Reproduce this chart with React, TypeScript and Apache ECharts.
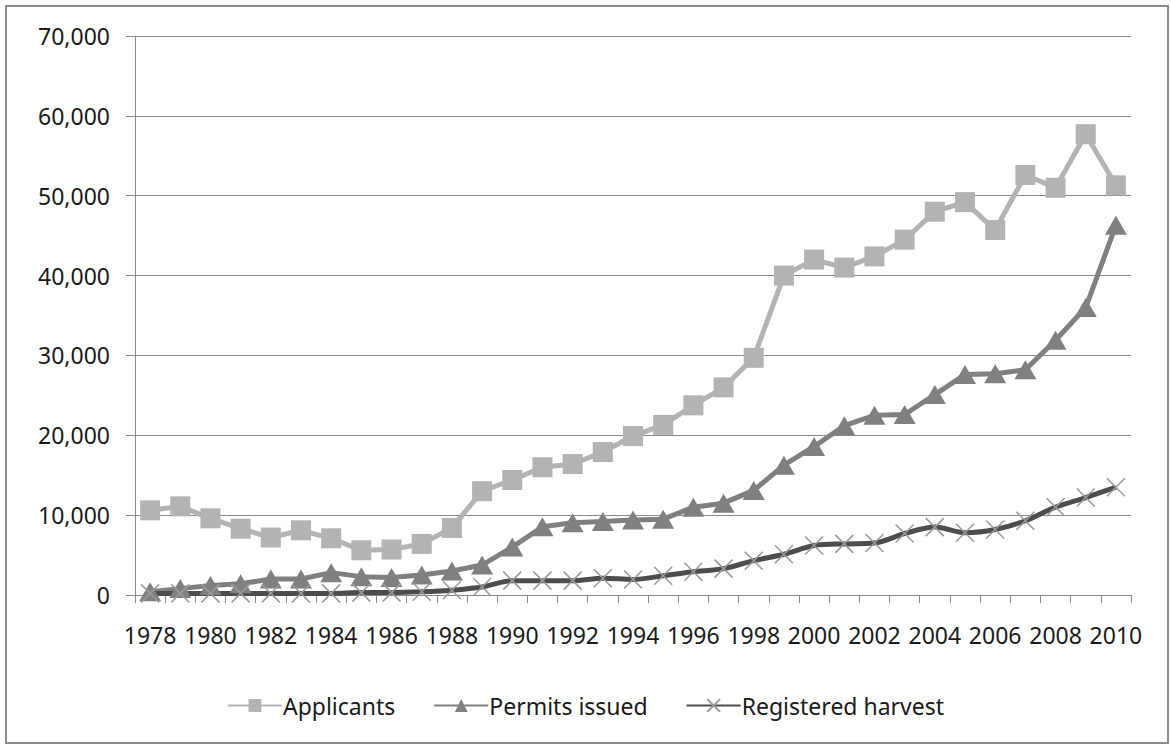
import React, { useEffect, useRef } from "react";
import * as echarts from "echarts";

const years = [
  "1978","1979","1980","1981","1982","1983","1984","1985","1986","1987","1988",
  "1989","1990","1991","1992","1993","1994","1995","1996","1997","1998","1999",
  "2000","2001","2002","2003","2004","2005","2006","2007","2008","2009","2010",
];

const applicants = [
  10600, 11100, 9600, 8300, 7200, 8100, 7100, 5600, 5700, 6400, 8400,
  13000, 14400, 16000, 16400, 17900, 19900, 21300, 23750, 26000, 29700, 40000,
  42000, 41000, 42400, 44500, 48000, 49200, 45700, 52600, 51000, 57700, 51300,
];

const permits = [
  400, 800, 1200, 1400, 2000, 2000, 2800, 2300, 2200, 2500, 3000,
  3750, 6000, 8550, 9050, 9200, 9400, 9500, 11000, 11500, 13100, 16250,
  18600, 21200, 22500, 22600, 25100, 27600, 27700, 28200, 31900, 36000, 46300,
];

const harvest = [
  200, 200, 200, 200, 200, 200, 200, 300, 300, 400, 600,
  1000, 1800, 1800, 1800, 2100, 1950, 2400, 2900, 3300, 4300, 5100,
  6200, 6400, 6500, 7700, 8500, 7800, 8200, 9300, 11000, 12200, 13500,
];

const yTicks = [0, 10000, 20000, 30000, 40000, 50000, 60000, 70000];

const FONT = "'Noto Sans', sans-serif";
const AXIS_GRAY = "#8a8a8a";

export default function App() {
  const ref = useRef<HTMLDivElement>(null);

  useEffect(() => {
    if (!ref.current) return;
    const chart = echarts.init(ref.current, undefined, { renderer: "svg" });
    chart.setOption({
      animation: false,
      backgroundColor: "#ffffff",
      textStyle: { fontFamily: FONT },
      graphic: [
        {
          type: "rect",
          shape: { x: 6, y: 6, width: 1162, height: 737 },
          style: { fill: "none", stroke: "#8c8c8c", lineWidth: 2 },
          silent: true,
        },
      ],
      grid: { left: 135, right: 40, top: 36, bottom: 150, containLabel: false },
      legend: {
        bottom: 23,
        left: "center",
        itemWidth: 54,
        itemHeight: 16,
        itemGap: 38,
        textStyle: { fontFamily: FONT, fontSize: 23, color: "#1a1a1a", padding: [0, 0, 0, -4] },
        data: ["Applicants", "Permits issued", "Registered harvest"],
      },
      xAxis: {
        type: "category",
        data: years,
        boundaryGap: true,
        axisLine: { show: true, lineStyle: { color: AXIS_GRAY, width: 1 } },
        axisTick: { show: true, interval: 0, length: 8, lineStyle: { color: AXIS_GRAY } },
        axisLabel: {
          interval: 1,
          fontFamily: FONT,
          fontSize: 23,
          color: "#1a1a1a",
          margin: 28,
        },
        splitLine: { show: false },
      },
      yAxis: {
        type: "value",
        min: yTicks[0],
        max: yTicks[yTicks.length - 1],
        interval: 10000,
        axisLine: { show: true, lineStyle: { color: AXIS_GRAY, width: 1 } },
        axisTick: { show: true, length: 9, lineStyle: { color: AXIS_GRAY } },
        axisLabel: {
          fontFamily: FONT,
          fontSize: 23,
          color: "#1a1a1a",
          margin: 25,
          formatter: (v: number) => v.toLocaleString("en-US"),
        },
        splitLine: { show: true, lineStyle: { color: AXIS_GRAY, width: 1 } },
      },
      series: [
        {
          name: "Applicants",
          type: "line",
          data: applicants,
          symbol: "rect",
          symbolSize: 20,
          lineStyle: { color: "#b3b3b3", width: 5 },
          itemStyle: { color: "#b3b3b3" },
        },
        {
          name: "Permits issued",
          type: "line",
          data: permits,
          symbol: "triangle",
          symbolSize: [22, 19],
          lineStyle: { color: "#808080", width: 5 },
          itemStyle: { color: "#808080" },
        },
        {
          name: "Registered harvest",
          type: "line",
          data: harvest,
          smooth: 0.3,
          symbol: "path://M0,0L10,10M10,0L0,10",
          symbolSize: 18,
          lineStyle: { color: "#4d4d4d", width: 5 },
          itemStyle: { color: "none", borderColor: "#9a9a9a", borderWidth: 1.5 },
        },
      ],
    });
    return () => chart.dispose();
  }, []);

  return (
    <div
      ref={ref}
      style={{ position: "absolute", left: 0, top: 0, width: 1171, height: 745 }}
    />
  );
}
